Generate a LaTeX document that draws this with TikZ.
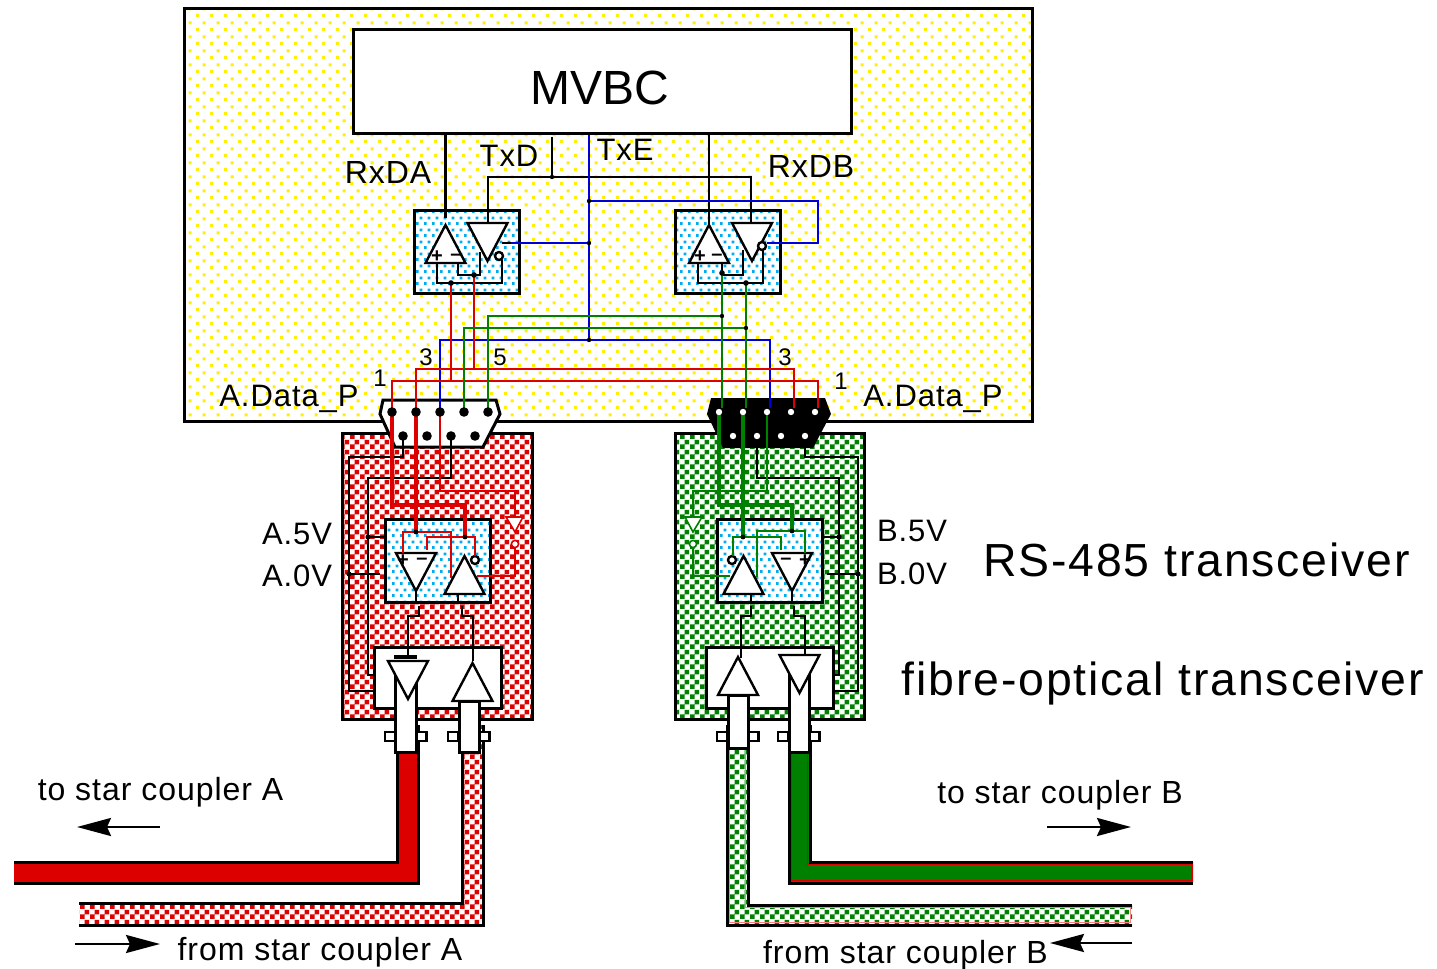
\documentclass[tikz,border=0pt]{standalone}
\usepackage{fontspec}
\setmainfont{Liberation Sans}
\newfontfamily\widefont[LetterSpace=3]{Liberation Sans}
\newfontfamily\widerfont[LetterSpace=4]{Liberation Sans}
\usetikzlibrary{arrows.meta, patterns}

\definecolor{boardyellow}{RGB}{255,240,0}
\definecolor{chipblue}{RGB}{0,174,239}
\definecolor{wirered}{RGB}{221,0,0}
\definecolor{wiregreen}{RGB}{0,128,0}
\definecolor{wireblue}{RGB}{0,0,221}

\pgfdeclarepatternformonly{boarddots}{\pgfqpoint{0pt}{0pt}}{\pgfqpoint{7pt}{7pt}}{\pgfqpoint{7pt}{7pt}}{
  \pgfpathrectangle{\pgfqpoint{0pt}{0pt}}{\pgfqpoint{1.7pt}{1.7pt}}
  \pgfpathrectangle{\pgfqpoint{3.5pt}{3.5pt}}{\pgfqpoint{1.7pt}{1.7pt}}
  \pgfusepath{fill}}
\pgfdeclarepatternformonly{chipdots}{\pgfqpoint{0pt}{0pt}}{\pgfqpoint{4pt}{6pt}}{\pgfqpoint{4pt}{6pt}}{
  \pgfpathrectangle{\pgfqpoint{0pt}{0pt}}{\pgfqpoint{1.5pt}{1.5pt}}
  \pgfpathrectangle{\pgfqpoint{2pt}{3pt}}{\pgfqpoint{1.5pt}{1.5pt}}
  \pgfusepath{fill}}
\pgfdeclarepatternformonly{checker}{\pgfqpoint{0pt}{0pt}}{\pgfqpoint{5pt}{5pt}}{\pgfqpoint{5pt}{5pt}}{
  \pgfpathrectangle{\pgfqpoint{0pt}{0pt}}{\pgfqpoint{2.5pt}{2.5pt}}
  \pgfpathrectangle{\pgfqpoint{2.5pt}{2.5pt}}{\pgfqpoint{2.5pt}{2.5pt}}
  \pgfusepath{fill}}

\tikzset{
  outline/.style={draw, line width=1.5pt, inner sep=0pt, outer sep=0pt, line join=miter},
  board/.style={outline, preaction={fill=white}, pattern=boarddots, pattern color=boardyellow,
    minimum width=424pt, minimum height=206.5pt},
  chipbox/.style={outline, preaction={fill=white}, pattern=chipdots, pattern color=chipblue,
    minimum width=52.5pt, minimum height=41.5pt},
  redbox/.style={outline, preaction={fill=white}, pattern=checker, pattern color=wirered,
    minimum width=95pt, minimum height=143pt},
  greenbox/.style={outline, preaction={fill=white}, pattern=checker, pattern color=wiregreen,
    minimum width=94.5pt, minimum height=143pt},
  fibrebox/.style={outline, fill=white, minimum width=63.5pt, minimum height=30.5pt},
  gate/.style={draw, fill=white, line width=1.2pt, line join=miter},
  wire/.style={line width=1.2pt},
  thinwire/.style={line width=0.9pt},
  fatwire/.style={line width=1.6pt},
  jacket/.style={line width=1.5pt},
  label/.style={font=\widefont\fontsize{15.5}{18}\selectfont, inner sep=0pt},
  widelabel/.style={font=\widefont\fontsize{16}{18}\selectfont, inner sep=0pt},
  big/.style={font=\widerfont\fontsize{23.2}{26}\selectfont, inner sep=0pt},
  num/.style={font=\fontsize{12}{13}\selectfont, inner sep=0pt},
  sign/.style={font=\bfseries\fontsize{10}{10}\selectfont, inner sep=0pt},
  flow/.style={line width=1.2pt, -{Stealth[length=17pt,width=9pt,inset=2pt]}},
  pics/ampup/.style={code={\draw[gate] (-20,0) -- (20,0) -- (0,-38) -- cycle;}},
  pics/ampdown/.style={code={\draw[gate] (-20,0) -- (20,0) -- (0,38) -- cycle;}},
}

\begin{document}
\begin{tikzpicture}[x=0.5pt, y=-0.5pt]
\useasboundingbox (0,0) rectangle (1437,969);

% fibres
\fill[wirered] (397,725) -- (397,862) -- (14,862) -- (14,883) -- (418,883) -- (418,725) -- cycle;
\draw[jacket] (397,725) -- (397,862) -- (14,862);
\draw[jacket] (14,883) -- (418,883) -- (418,725);
\fill[white] (462,725) -- (462,903) -- (79,903) -- (79,925) -- (483,925) -- (483,725) -- cycle;
\fill[pattern=checker, pattern color=wirered] (462,725) -- (462,903) -- (79,903) -- (79,925) -- (483,925) -- (483,725) -- cycle;
\draw[jacket] (462,725) -- (462,903) -- (79,903);
\draw[jacket] (79,925) -- (483,925) -- (483,725);
\fill[white] (727,725) -- (727,925) -- (1132,925) -- (1132,905) -- (748,905) -- (748,725) -- cycle;
\fill[pattern=checker, pattern color=wiregreen] (727,725) -- (727,925) -- (1132,925) -- (1132,905) -- (748,905) -- (748,725) -- cycle;
\draw[line width=0.5pt, red!50] (729.5,725) -- (729.5,922.5) -- (1130,922.5) -- (1130,907.5) -- (745.5,907.5) -- (745.5,725);
\draw[jacket] (727,725) -- (727,925) -- (1132,925);
\draw[jacket] (1132,905) -- (748,905) -- (748,725);
\fill[wiregreen] (789,725) -- (789,883) -- (1193,883) -- (1193,862) -- (810,862) -- (810,725) -- cycle;
\draw[line width=0.6pt, wirered] (791.5,725) -- (791.5,880.5) -- (1192,880.5) -- (1192,864.5) -- (807.5,864.5) -- (807.5,725);
\draw[jacket] (789,725) -- (789,883) -- (1193,883);
\draw[jacket] (1193,862) -- (810,862) -- (810,725);

% boxes
\node[board] (cardMain) at (608,214.5) {};
\node[outline, fill=white, minimum width=249pt, minimum height=52pt] (mvbc) at (602,81) {};
\node[font=\fontsize{24}{28}\selectfont, inner sep=0pt] (mvbcText) at (600,88) {MVBC};
\node[redbox] (portA) at (437,576) {};
\node[greenbox] (portB) at (769.5,576) {};
\node[chipbox] (chipTopA) at (466.5,251.5) {};
\node[chipbox] (chipTopB) at (727.5,251.5) {};
\node[chipbox] (chipLowA) at (437.5,561) {};
\node[chipbox] (chipLowB) at (770,561) {};
\node[fibrebox] (fibA) at (437.5,677.5) {};
\node[fibrebox] (fibB) at (770,677.5) {};

% pins
\coordinate (pinA1) at (392,412);
\coordinate (pinA2) at (416,412);
\coordinate (pinA3) at (440,412);
\coordinate (pinA4) at (464,412);
\coordinate (pinA5) at (488,412);
\coordinate (lowA1) at (403,436);
\coordinate (lowA2) at (427,436);
\coordinate (lowA3) at (451,436);
\coordinate (lowA4) at (475,436);
\coordinate (pinB1) at (719,412);
\coordinate (pinB2) at (743,412);
\coordinate (pinB3) at (767,412);
\coordinate (lowB1) at (733,436);
\coordinate (lowB2) at (757,436);
\coordinate (lowB3) at (781,436);
\coordinate (lowB4) at (805,436);
\coordinate (wireB1) at (722,408);
\coordinate (wireB2) at (746,408);
\coordinate (wireB3) at (770,408);
\coordinate (wireB4) at (794,408);
\coordinate (wireB5) at (818,408);

% connector shells
\draw[outline, fill=white] (383,400) -- (496,400) -- (500,414) -- (483,447) -- (395,447) -- (380,414) -- cycle;
\fill (711,398) -- (825,398) -- (831,414) -- (813,448) -- (723,448) -- (707,414) -- cycle;

% MVBC wires
\coordinate (rxA) at (445.5,133);
\coordinate (rxB) at (709,133);
\coordinate (txdStub) at (552,137);
\coordinate (txdTap) at (552,177);
\coordinate (txdA) at (488,222);
\coordinate (txdB) at (751,222);
\coordinate (txeTop) at (589,135);
\coordinate (txeTap1) at (589,201);
\coordinate (txeTap2) at (589,243);
\coordinate (txeLow) at (589,340);
\coordinate (enA) at (502,243);
\coordinate (enA2) at (511,243);
\coordinate (enTurn) at (818,243);
\coordinate (enB) at (767,243);
\draw[wire] (rxA) -- ++(0,85);
\draw[wire] (rxB) -- ++(0,92);
\draw[wire] (txdStub) -- (txdTap);
\draw[wire] (txdA) |- (txdTap) -| (txdB);
\draw[wire] (enA) -- (enA2);
\draw[wireblue, wire] (enA2) -- (txeTap2);
\draw[wireblue, wire] (txeTop) -- (txeLow);
\draw[wireblue, wire] (txeTap1) -| (enTurn) -- (enB);
\draw[wireblue, wire] (pinA3) |- (txeLow) -| (wireB3);

% top transceivers
\pic at (445.5,263) {ampup};
\pic at (487.5,223) {ampdown};
\pic at (709,263) {ampup};
\pic at (752,223) {ampdown};
\draw[gate] (499,256) circle (2pt);
\draw[gate] (762,246) circle (2pt);
\node[sign] (plusTA) at (437,257) {+};
\node[sign] (minusTA) at (456,257) {--};
\node[sign] (plusTB) at (700,257) {+};
\node[sign] (minusTB) at (717,257) {--};
\coordinate (inPA) at (437,263);
\coordinate (inMA) at (458,263);
\coordinate (bubA) at (502,260);
\coordinate (outA) at (480,252);
\coordinate (jTopA1) at (451,283);
\coordinate (jTopA2) at (474,275);
\coordinate (inPB) at (698,263);
\coordinate (inMB) at (722,263);
\coordinate (bubB) at (763,250);
\coordinate (outB) at (743,250);
\coordinate (jTopB1) at (722,273);
\coordinate (jTopB2) at (746,283);
\draw[wire] (inPA) -- ++(0,20) -| (bubA);
\draw[wire] (inMA) -- ++(0,12) -| (outA);
\draw[wire] (inPB) -- ++(0,20) -| (bubB);
\draw[wire] (inMB) -- ++(0,12) -| (outB);

% buses to the connectors
\coordinate (busHigh) at (600,369);
\coordinate (busLow) at (600,381);
\coordinate (gTap1) at (722,316);
\coordinate (gTap2) at (746,328);
\draw[wirered, wire] (pinA2) |- (busHigh) -| (wireB4);
\draw[wirered, wire] (pinA1) |- (busLow) -| (wireB5);
\draw[wirered, wire] (jTopA1) -- (jTopA1 |- busLow);
\draw[wirered, wire] (jTopA2) -- (jTopA2 |- busHigh);
\draw[wiregreen, wire] (pinA4) |- (gTap2);
\draw[wiregreen, wire] (pinA5) |- (gTap1);
\draw[wiregreen, wire] (jTopB1) -- (wireB1);
\draw[wiregreen, wire] (jTopB2) -- (wireB2);
\foreach \p in {txeTap1, txeTap2, txeLow, txdTap, gTap1, gTap2}
  \fill (\p) circle (1.1pt);
\foreach \p in {jTopA1, jTopA2, jTopB1, jTopB2}
  \fill (\p) circle (1.4pt);

% black supply wires
\coordinate (tapA1) at (368,537);
\coordinate (tapA2) at (349,574);
\coordinate (feedA1) at (374,675);
\coordinate (feedA2) at (374,691);
\coordinate (tapB1) at (839,537);
\coordinate (tapB2) at (858,574);
\coordinate (feedB1) at (833,675);
\coordinate (feedB2) at (833,691);
\draw[wire] (lowA1) -- ++(0,21) -| (tapA2) |- (feedA2);
\draw[wire] (lowA3) -- ++(0,42) -| (tapA1) |- (feedA1);
\draw[wire] (lowB4) -- ++(0,21) -| (tapB2) |- (feedB2);
\draw[wire] (lowB2) -- ++(0,42) -| (tapB1) |- (feedB1);
\draw[wire] (tapA1) -- (chipLowA.west |- tapA1);
\draw[wire] (tapA2) -- ++(31,0);
\draw[wire] (tapB1) -- (chipLowB.east |- tapB1);
\draw[wire] (tapB2) -- ++(-31,0);
\foreach \p in {tapA1, tapA2, tapB1, tapB2}
  \fill (\p) circle (1.3pt);

% sleeves and flanges
\foreach \x in {385, 416, 448, 479, 717, 748, 778, 809}
  \draw[gate, line width=1.3pt] (\x,732) rectangle ++(10.5,9);
\draw[outline, fill=white] (395,670) rectangle (416,752);
\draw[outline, fill=white] (459,701) rectangle (479,752);
\draw[outline, fill=white] (728,695) rectangle (748,748);
\draw[outline, fill=white] (789,670) rectangle (809,752);

% lower transceiver, side A
\pic at (416,553) {ampdown};
\pic at (464.5,594) {ampup};
\draw[gate] (475,560) circle (2pt);
\node[sign] (plusLA) at (403,561) {+};
\node[sign] (minusLA) at (422,561) {--};
\coordinate (jLowA1) at (465,537);
\coordinate (jLowA2) at (416,532);
\coordinate (gA1) at (427,550);
\coordinate (gA2) at (475,556);
\coordinate (gA3) at (403,553);
\coordinate (gA4) at (451,578);
\coordinate (auxTopA) at (515,517);
\coordinate (auxLowA) at (515,548);
\coordinate (auxEndA) at (477,576);
\draw[wirered, fatwire] (pinA1) -- ++(0,93) -| (jLowA1);
\draw[wirered, fatwire] (pinA2) -- (jLowA2);
\draw[wirered, wire] (gA1) |- (jLowA1) -| (gA2);
\draw[wirered, wire] (gA3) |- (jLowA2) -| (gA4);
\draw[wirered, thinwire] (pinA3) -- ++(0,79) -| (auxTopA);
\draw[wirered, thinwire] (auxLowA) |- (auxEndA);
\draw[draw=wirered, fill=white, line width=0.8pt] (506,517) -- (523,517) -- (515,532) -- cycle;
\draw[draw=wirered, fill=white, line width=0.8pt] (515,544) circle (1.8pt);
\foreach \p in {jLowA1, jLowA2}
  \fill (\p) circle (1.2pt);

% lower transceiver, side B
\pic at (743.5,594) {ampup};
\pic at (792,553) {ampdown};
\draw[gate] (732,560) circle (2pt);
\node[sign] (plusLB) at (805,561) {+};
\node[sign] (minusLB) at (786,561) {--};
\coordinate (jLowB1) at (743,537);
\coordinate (jLowB2) at (792,531);
\coordinate (gB1) at (733,556);
\coordinate (gB2) at (781,550);
\coordinate (gB3) at (757,577);
\coordinate (gB4) at (805,553);
\coordinate (auxTopB) at (693,517);
\coordinate (auxLowB) at (693,548);
\coordinate (auxEndB) at (730,576);
\draw[wiregreen, fatwire] (pinB1) -- ++(0,93) -| (jLowB2);
\draw[wiregreen, fatwire] (pinB2) -- (jLowB1);
\draw[wiregreen, wire] (gB1) |- (jLowB1) -| (gB2);
\draw[wiregreen, wire] (gB3) |- (jLowB2) -| (gB4);
\draw[wiregreen, thinwire] (pinB3) -- ++(0,79) -| (auxTopB);
\draw[wiregreen, thinwire] (auxLowB) |- (auxEndB);
\draw[draw=wiregreen, fill=white, line width=0.8pt] (685,517) -- (702,517) -- (693,532) -- cycle;
\draw[draw=wiregreen, fill=white, line width=0.8pt] (693,544) circle (1.8pt);
\foreach \p in {jLowB1, jLowB2}
  \fill (\p) circle (1.2pt);

% pin dots
\foreach \p in {pinA1, pinA2, pinA3, pinA4, pinA5, lowA1, lowA2, lowA3, lowA4}
  \fill (\p) circle (2.4pt);
\foreach \x in {719, 743, 767, 791, 815}
  \fill[white] (\x,412) circle (1.6pt);
\foreach \p in {lowB1, lowB2, lowB3, lowB4}
  \fill[white] (\p) circle (1.6pt);

% fibre transmitters and receivers
\coordinate (optA1) at (416,591);
\coordinate (optA2) at (416,602);
\coordinate (optA3) at (419,606);
\coordinate (optA4) at (408,657);
\coordinate (optA5) at (458,594);
\coordinate (optA6) at (458,602);
\coordinate (optA7) at (462,606);
\coordinate (optA8) at (473,661);
\coordinate (optB1) at (792,591);
\coordinate (optB2) at (792,603);
\coordinate (optB3) at (794,606);
\coordinate (optB4) at (805,655);
\coordinate (optB5) at (751,594);
\coordinate (optB6) at (751,603);
\coordinate (optB7) at (751,606);
\coordinate (optB8) at (741,658);
\draw[wire] (optA1) -- (optA2);
\draw[wire] (optA5) -- (optA6);
\draw[wire] (optB1) -- (optB2);
\draw[wire] (optB5) -- (optB6);
\draw[wire] (optA3) -- ++(0,10) -| (optA4);
\draw[wire] (optA7) -- ++(0,10) -| (optA8);
\draw[wire] (optB3) -- ++(0,10) -| (optB4);
\draw[wire] (optB7) -- ++(0,10) -| (optB8);
\draw[line width=1.6pt] (394,657) -- (417,657);
\pic at (408,661) {ampdown};
\pic at (472.5,701) {ampup};
\pic at (738,695) {ampup};
\pic at (799.5,655) {ampdown};

% texts
\node[widelabel] (lblRxA) at (388,172) {RxDA};
\node[label] (lblTxD) at (509,156) {TxD};
\node[label] (lblTxE) at (625,150) {TxE};
\node[widelabel] (lblRxB) at (811,166) {RxDB};
\node[label] (lblDataA) at (289,399) {A.Data\_P};
\node[label] (lblDataB) at (933,399) {A.Data\_P};
\node[num] (numA1) at (380,378) {1};
\node[num] (numA3) at (426,357) {3};
\node[num] (numA5) at (500,357) {5};
\node[num] (numB3) at (785,357) {3};
\node[num] (numB1) at (841,381) {1};
\node[label] (lblA5) at (297,534) {A.5V};
\node[label] (lblA0) at (297,576) {A.0V};
\node[label] (lblB5) at (912,531) {B.5V};
\node[label] (lblB0) at (912,574) {B.0V};
\node[big] (lblRs) at (1196.5,560) {RS-485 transceiver};
\node[big] (lblFo) at (1163,683) {fibre-optical transceiver};
\node[widelabel] (lblToA) at (160.5,792) {to star coupler A};
\node[widelabel] (lblToB) at (1060,795) {to star coupler B};
\node[widelabel] (lblFromA) at (320,952) {from star coupler A};
\node[widelabel] (lblFromB) at (905.5,955) {from star coupler B};

% direction arrows
\coordinate (toA1) at (160,827);
\coordinate (toA2) at (77,827);
\coordinate (toB1) at (1047,827);
\coordinate (toB2) at (1131,827);
\coordinate (fromA1) at (75,944);
\coordinate (fromA2) at (160,944);
\coordinate (fromB1) at (1132,943);
\coordinate (fromB2) at (1050,943);
\draw[flow] (toA1) -- (toA2);
\draw[flow] (toB1) -- (toB2);
\draw[flow] (fromA1) -- (fromA2);
\draw[flow] (fromB1) -- (fromB2);
\end{tikzpicture}
\end{document}
